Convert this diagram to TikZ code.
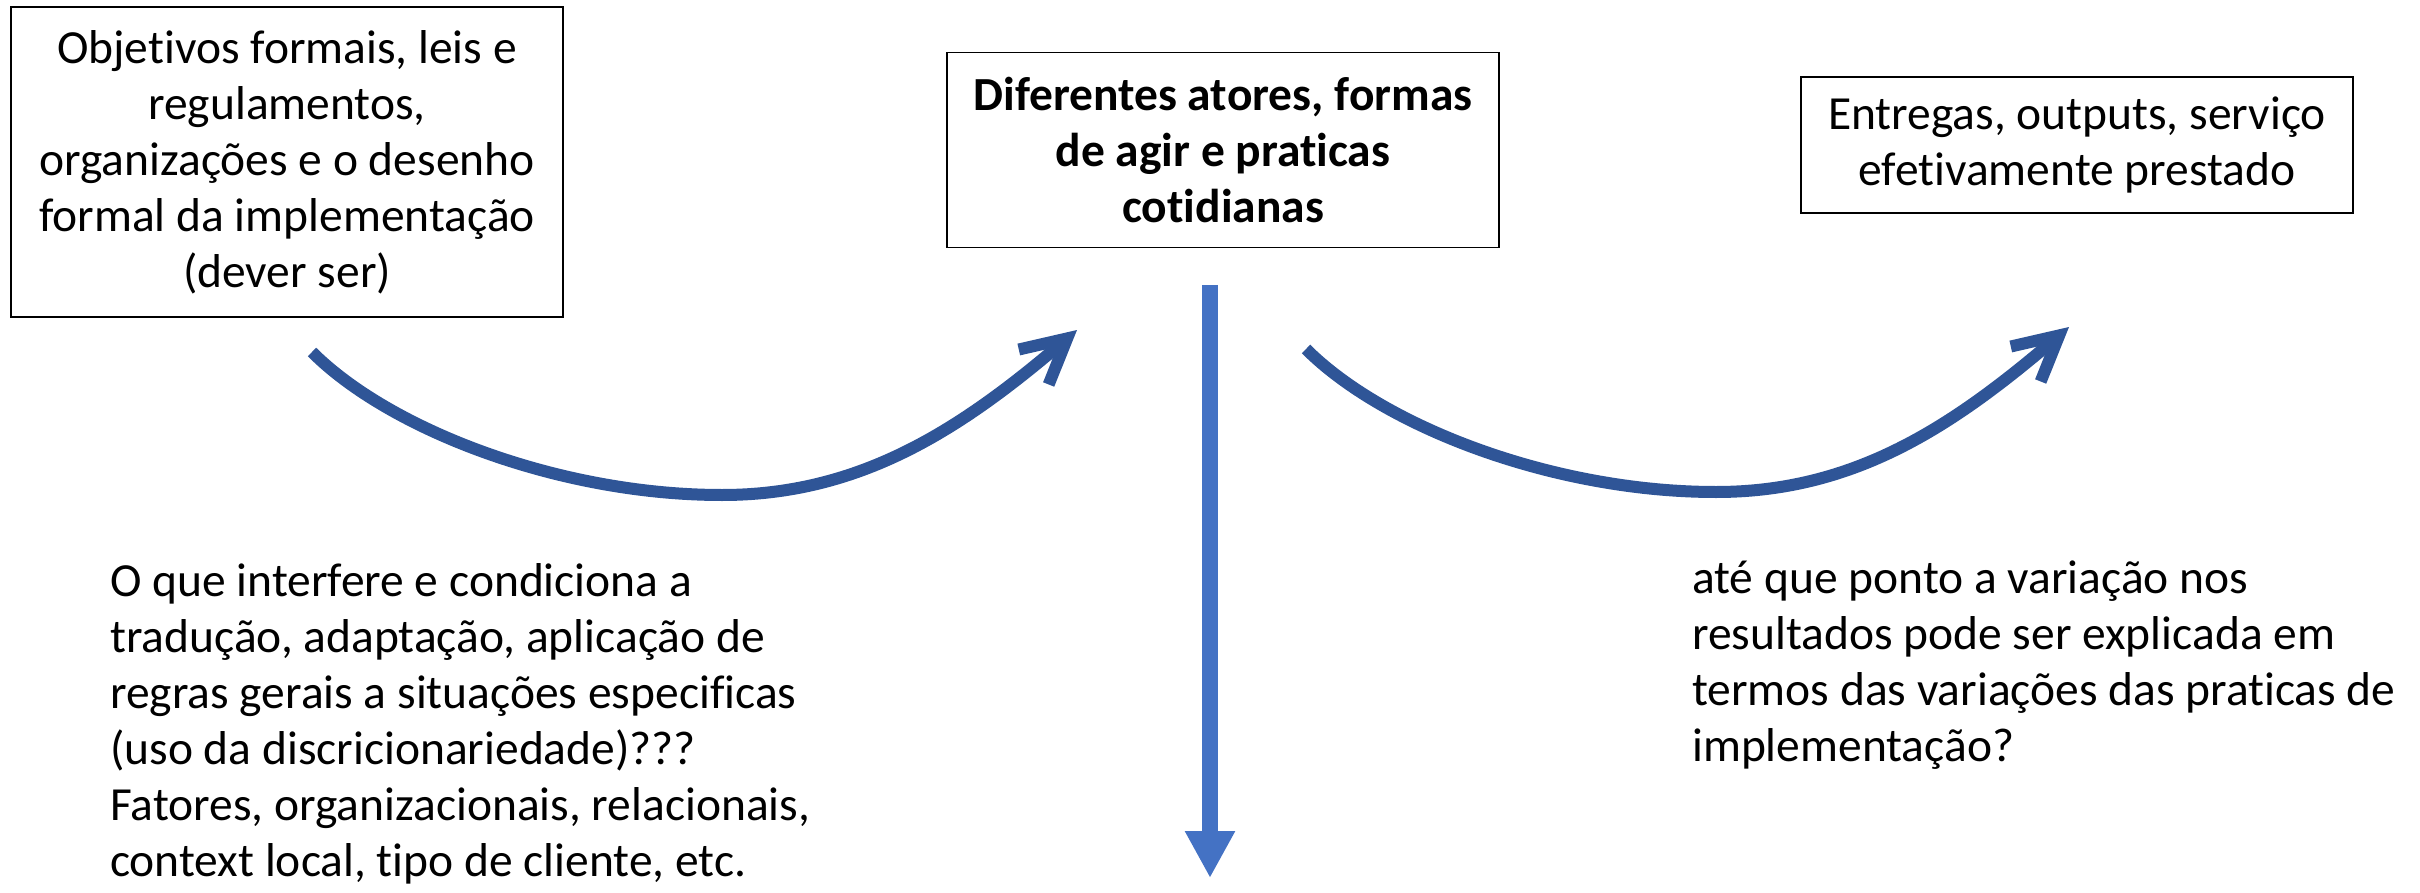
\documentclass[tikz,border=0pt]{standalone}
\usepackage{fontspec}
\setmainfont[Ligatures={NoCommon}]{Carlito}
\usetikzlibrary{arrows.meta}
\definecolor{curveblue}{HTML}{2F5597}
\definecolor{shaftblue}{HTML}{4472C4}
\newcommand{\diagfont}{\fontsize{47.5}{56}\selectfont}
\tikzset{
  textbox/.style={draw=black, line width=1.8pt, minimum width=552pt, align=center, inner sep=0pt, font=\diagfont},
  freetext/.style={align=left, inner sep=0pt, anchor=west, font=\diagfont},
  bendarrow/.style={draw=curveblue, line width=12pt, -{Straight Barb[length=44pt,width=46pt]}},
  downarrow/.style={draw=shaftblue, line width=16pt, -{Triangle[length=47pt,width=47pt]}}
}

\begin{document}
\begin{tikzpicture}[x=1pt,y=-1pt]
\useasboundingbox (0,0) rectangle (2420,893);

\node[textbox, minimum height=310pt] (rules) at (287,162) {Objetivos formais, leis e\\regulamentos,\\organizações e o desenho\\formal da implementação\\(dever ser)};
\node[textbox, minimum height=195pt, font=\diagfont\bfseries] (actors) at (1223,150) {Diferentes atores, formas\\de agir e praticas\\cotidianas};
\node[textbox, minimum height=136pt] (outputs) at (2077,145) {Entregas, outputs, serviço\\efetivamente prestado};

\node[freetext] (factors) at (110,724) {O que interfere e condiciona a\\tradução, adaptação, aplicação de\\regras gerais a situações especificas\\(uso da discricionariedade)???\\Fatores, organizacionais, relacionais,\\context local, tipo de cliente, etc.};
\node[freetext] (results) at (1692,665) {até que ponto a variação nos\\resultados pode ser explicada em\\termos das variações das praticas de\\implementação?};

\coordinate (leftstart) at (312,352);
\coordinate (leftlow) at (722,495);
\coordinate (lefttip) at (1077,330);
\coordinate (rightstart) at (1306,349);
\coordinate (rightlow) at (1716,492);
\coordinate (righttip) at (2069,327);
\coordinate (downtop) at (1210,285);
\coordinate (downtip) at (1210,878);

\draw[bendarrow] (leftstart) .. controls +(78,78) and +(-162,0) .. (leftlow) .. controls +(138,0) and +(-117,100) .. (lefttip);
\draw[bendarrow] (rightstart) .. controls +(78,78) and +(-162,0) .. (rightlow) .. controls +(138,0) and +(-117,100) .. (righttip);
\draw[downarrow] (downtop) -- (downtip);
\end{tikzpicture}
\end{document}
